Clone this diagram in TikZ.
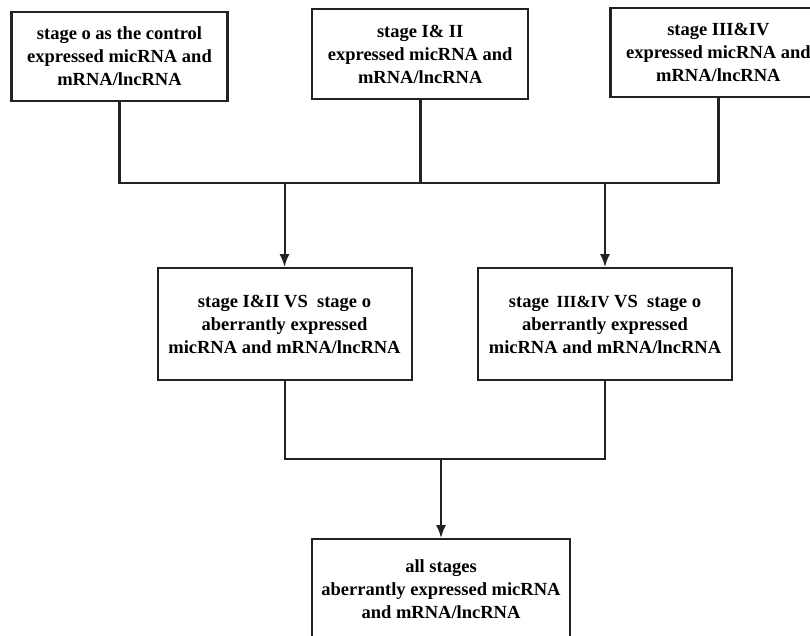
\documentclass[tikz,border=0pt]{standalone}
\usepackage{fontspec}
\setmainfont{Liberation Serif}
\usetikzlibrary{arrows.meta, positioning}
\definecolor{flowLine}{HTML}{222222}

\begin{document}
\begin{tikzpicture}[
  stagebox/.style={draw=flowLine, line width=1.1pt, fill=white,
    minimum width=108pt, minimum height=44.5pt, align=center,
    font=\fontsize{9.25}{11.5}\selectfont\bfseries},
  vsbox/.style={stagebox, minimum width=127pt, minimum height=56pt, line width=1pt},
  allbox/.style={stagebox, minimum width=129pt, minimum height=50pt, line width=1pt},
  link/.style={flowLine, line width=1.3pt},
  arr/.style={-{Latex[length=6.5pt, width=5pt]}, flowLine, line width=1pt}
]
\useasboundingbox (0,0) rectangle (405pt,-318pt);
\node[stagebox] (ctrl) at (59.75pt,-28.25pt) {stage o as the control\\expressed micRNA and\\mRNA/lncRNA};
\node[stagebox, right=41.25pt of ctrl, yshift=1.25pt, minimum height=45pt] (early) {stage I\& II\\expressed micRNA and\\mRNA/lncRNA};
\node[stagebox, right=40pt of early, yshift=0.75pt] (late) {stage III\&IV\\expressed micRNA and\\mRNA/lncRNA};
\node[vsbox, below=82.5pt of ctrl, xshift=82.5pt] (earlyVs) {stage I\&II VS\ \ stage o\\aberrantly expressed\\micRNA and mRNA/lncRNA};
\node[vsbox, right=32.25pt of earlyVs] (lateVs) {stage \,{\fontsize{8.5}{11.5}\selectfont III\&IV} VS\ \ stage o\\aberrantly expressed\\micRNA and mRNA/lncRNA};
\node[allbox, below=78.5pt of earlyVs, xshift=78.25pt] (allStages) {all stages\\aberrantly expressed micRNA\\and mRNA/lncRNA};

\path (ctrl.south) ++(0,-40.5pt) coordinate (topBus);
\draw[link] (ctrl.south) -- (topBus) -| (late.south);
\draw[link] (early.south) -- (early.south |- topBus);
\draw[arr] (earlyVs.north |- topBus) -- (earlyVs.north);
\draw[arr] (lateVs.north |- topBus) -- (lateVs.north);

\path (earlyVs.south) ++(0,-39pt) coordinate (lowBus);
\draw[link, line width=1pt] (earlyVs.south) -- (lowBus) -| (lateVs.south);
\draw[arr] (allStages.north |- lowBus) -- (allStages.north);
\end{tikzpicture}
\end{document}
